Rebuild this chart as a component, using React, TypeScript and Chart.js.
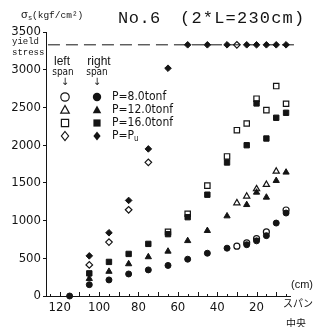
import React, { useEffect, useRef } from 'react';
import { Chart, registerables } from 'chart.js';

Chart.register(...registerables);

const INK = '#141414';
const NARROW = '"Liberation Sans Narrow", "DejaVu Sans Condensed", "Liberation Sans", sans-serif';
const MONO = '"Liberation Mono", "DejaVu Sans Mono", monospace';

// axis tick values
const xLabelValues = [20, 40, 60, 80, 100, 120];
const xMinorTicks = [5, 10, 15, 20, 25, 30, 35, 40, 45, 50, 55, 60, 65, 70, 75, 80, 85, 90, 95, 100, 105, 110, 115, 120, 125];
const yTickValues = [0, 500, 1000, 1500, 2000, 2500, 3000, 3500];
const yieldStress = 3330;

// series: [distance from span centre (cm), stress (kgf/cm2)]
const leftP8: [number, number][] = [[30, 660], [25, 705], [20, 760], [15, 850], [5, 1140]];
const rightP8: [number, number][] = [[115, 0], [105, 150], [95, 213], [85, 292], [75, 346], [65, 405], [55, 488], [45, 567], [35, 634], [25, 680], [20, 731], [15, 800], [10, 967], [5, 1100], [0, 1110]];
const leftP12: [number, number][] = [[30, 1233], [25, 1321], [20, 1419], [15, 1476], [10, 1653]];
const rightP12: [number, number][] = [[105, 230], [95, 325], [85, 425], [75, 518], [65, 592], [55, 732], [45, 866], [35, 1060], [25, 1210], [20, 1374], [15, 1308], [10, 1529], [5, 1640], [0, 1653]];
const leftP16: [number, number][] = [[65, 850], [55, 1090], [45, 1463], [35, 1850], [30, 2198], [25, 2287], [20, 2616], [15, 2464], [10, 2783], [5, 2549]];
const rightP16: [number, number][] = [[105, 300], [95, 452], [85, 558], [75, 691], [65, 820], [55, 1045], [45, 1343], [35, 1770], [25, 1999], [20, 2553], [15, 2088], [10, 2363], [5, 2429], [0, 2416]];
const leftPu: [number, number][] = [[105, 412], [95, 715], [85, 1143], [75, 1772], [30, 3330]];
const rightPu: [number, number][] = [[105, 532], [95, 838], [85, 1267], [75, 1950], [65, 3020], [55, 3330], [45, 3330], [35, 3330], [25, 3330], [20, 3330], [15, 3330], [10, 3330], [5, 3330], [0, 3330]];
const yieldLineX = [126, 0];

const legendRows = [
  { label: 'P=8.0tonf', style: 'circle' },
  { label: 'P=12.0tonf', style: 'triangle' },
  { label: 'P=16.0tonf', style: 'rect' },
  { label: 'P=P', sub: 'u', style: 'rectRot' },
];

const toPts = (arr: [number, number][]) => arr.map(([x, y]) => ({ x, y }));

function drawSymbol(ctx: CanvasRenderingContext2D, style: string, x: number, y: number, r: number, filled: boolean) {
  ctx.beginPath();
  if (style === 'circle') {
    ctx.arc(x, y, r, 0, Math.PI * 2);
  } else if (style === 'triangle') {
    ctx.moveTo(x, y - r);
    ctx.lineTo(x - r * 0.95, y + r * 0.7);
    ctx.lineTo(x + r * 0.95, y + r * 0.7);
    ctx.closePath();
  } else if (style === 'rect') {
    ctx.rect(x - r * 0.8, y - r * 0.8, r * 1.6, r * 1.6);
  } else {
    ctx.moveTo(x, y - r);
    ctx.lineTo(x + r * 0.8, y);
    ctx.lineTo(x, y + r);
    ctx.lineTo(x - r * 0.8, y);
    ctx.closePath();
  }
  if (filled) {
    ctx.fillStyle = INK;
    ctx.fill();
  } else {
    ctx.fillStyle = '#fff';
    ctx.fill();
    ctx.lineWidth = 1.2;
    ctx.strokeStyle = INK;
    ctx.stroke();
  }
}

const decorPlugin = {
  id: 'decor',
  afterDraw(chart: any) {
    const { ctx, chartArea, scales } = chart;
    const xs = scales.x;
    ctx.save();
    // inward x ticks
    ctx.strokeStyle = INK;
    ctx.lineWidth = 1;
    for (const v of xMinorTicks) {
      const px = Math.round(xs.getPixelForValue(v)) + 0.5;
      const len = v % 10 === 0 ? 4 : 2;
      ctx.beginPath();
      ctx.moveTo(px, chartArea.bottom);
      ctx.lineTo(px, chartArea.bottom - len);
      ctx.stroke();
    }
    ctx.fillStyle = INK;
    ctx.textBaseline = 'middle';
    // title
    ctx.font = `17px ${MONO}`;
    (ctx as any).letterSpacing = '0.5px';
    ctx.textAlign = 'left';
    ctx.fillText('No.6', 118, 18);
    (ctx as any).letterSpacing = '1.2px';
    ctx.fillText('(2*L=230cm)', 180, 18);
    (ctx as any).letterSpacing = '0px';
    // y-axis unit
    ctx.font = `11px ${MONO}`;
    ctx.fillText('σ', 21, 15);
    ctx.font = `7px ${MONO}`;
    ctx.fillText('s', 28, 18);
    ctx.font = `9.5px ${MONO}`;
    ctx.fillText('(kgf/cm²)', 32, 15);
    // yield stress label
    ctx.font = `9px ${MONO}`;
    ctx.fillText('yield', 12, 42);
    ctx.fillText('stress', 12, 53);
    // legend header
    ctx.textAlign = 'center';
    ctx.font = `12px "Liberation Sans", sans-serif`;
    ctx.fillText('left', 62, 62);
    ctx.fillText('right', 99, 62);
    ctx.font = `10px ${NARROW}`;
    ctx.fillText('span', 63, 72);
    ctx.fillText('span', 97, 72);
    ctx.font = `10px "DejaVu Sans", sans-serif`;
    ctx.fillText('↓', 65, 82);
    ctx.fillText('↓', 97, 82);
    // legend rows
    const rowY = [97, 110, 123, 136];
    legendRows.forEach((row, i) => {
      const y = rowY[i];
      const r = row.style === 'circle' ? 4.2 : 4.5;
      drawSymbol(ctx, row.style, 65, y, r, false);
      drawSymbol(ctx, row.style, 97, y, r, true);
      ctx.fillStyle = INK;
      ctx.textAlign = 'left';
      ctx.font = `12px ${NARROW}`;
      ctx.fillText(row.label, 112, y);
      if (row.sub) {
        const w = ctx.measureText(row.label).width;
        ctx.font = `8px ${NARROW}`;
        ctx.fillText(row.sub, 112 + w, y + 3);
      }
    });
    // x unit and note
    ctx.textAlign = 'left';
    ctx.font = `11px "Liberation Sans", sans-serif`;
    ctx.fillText('(cm)', 291, 285);
    ctx.textAlign = 'center';
    ctx.font = `10px "Noto Sans CJK JP", sans-serif`;
    ctx.fillText('スパン', 298, 303);
    ctx.fillText('中央', 296, 323);
    ctx.restore();
  },
};

function hollow(label: string, data: [number, number][], style: string, radius: number) {
  return {
    label,
    data: toPts(data),
    pointStyle: style,
    pointRadius: radius,
    backgroundColor: '#fff',
    borderColor: INK,
    borderWidth: 1.2,
    clip: false,
  };
}

function filled(label: string, data: [number, number][], style: string, radius: number) {
  return {
    label,
    data: toPts(data),
    pointStyle: style,
    pointRadius: radius,
    backgroundColor: INK,
    borderColor: INK,
    borderWidth: 1,
    clip: false,
  };
}

export default function App() {
  const ref = useRef<HTMLCanvasElement | null>(null);
  useEffect(() => {
    if (!ref.current) return;
    const tickFont = { family: NARROW, size: 13 };
    const chart = new Chart(ref.current, {
      type: 'scatter',
      data: {
        datasets: [
          {
            label: 'yield',
            data: yieldLineX.map((x) => ({ x, y: yieldStress })),
            showLine: true,
            borderColor: INK,
            borderWidth: 1,
            borderDash: [12, 6],
            pointRadius: 0,
            clip: false,
          } as any,
          filled('right P=8.0tonf', rightP8, 'circle', 3),
          hollow('left P=8.0tonf', leftP8, 'circle', 3),
          filled('right P=12.0tonf', rightP12, 'triangle', 3.6),
          hollow('left P=12.0tonf', leftP12, 'triangle', 3.6),
          filled('right P=16.0tonf', rightP16, 'rect', 3.8),
          hollow('left P=16.0tonf', leftP16, 'rect', 3.8),
          filled('right P=Pu', rightPu, 'rectRot', 3.3),
          hollow('left P=Pu', leftPu, 'rectRot', 3.3),
        ],
      },
      options: {
        animation: false,
        responsive: false,
        devicePixelRatio: 1,
        layout: { padding: { left: 0, top: 32, right: 30, bottom: 0 } },
        plugins: { legend: { display: false }, tooltip: { enabled: false } },
        scales: {
          x: {
            type: 'linear',
            reverse: true,
            min: 3,
            max: 127,
            grid: { display: false, drawTicks: false },
            border: { display: true, color: INK, width: 1 },
            ticks: { font: tickFont, color: INK, padding: 4, autoSkip: false, maxRotation: 0, callback: (v: any) => String(v) },
            afterBuildTicks: (s: any) => {
              s.ticks = xLabelValues.map((v) => ({ value: v }));
            },
            afterFit: (s: any) => {
              s.height = 31;
            },
          },
          y: {
            type: 'linear',
            min: 0,
            max: 3500,
            grid: { display: true, drawOnChartArea: false, drawTicks: true, tickLength: 3, color: INK },
            border: { display: true, color: INK, width: 1 },
            ticks: { font: tickFont, color: INK, padding: 2, autoSkip: false, callback: (v: any) => String(v) },
            afterBuildTicks: (s: any) => {
              s.ticks = yTickValues.map((v) => ({ value: v }));
            },
            afterFit: (s: any) => {
              s.width = 46;
            },
          },
        },
      } as any,
      plugins: [decorPlugin],
    });
    return () => chart.destroy();
  }, []);
  return (
    <div style={{ position: 'absolute', left: 0, top: 0, width: 320, height: 327, background: '#fff' }}>
      <canvas ref={ref} width={320} height={327} style={{ width: 320, height: 327, display: 'block' }} />
    </div>
  );
}
